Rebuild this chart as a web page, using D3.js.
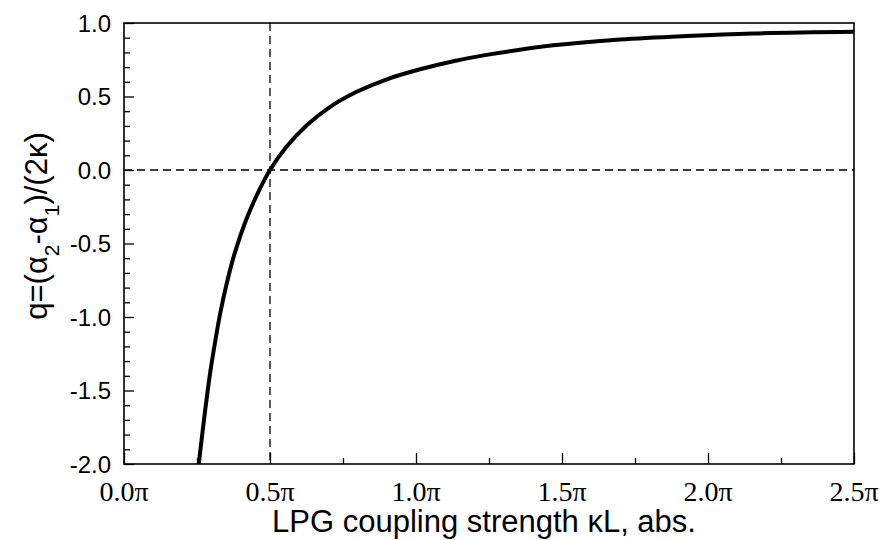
<!DOCTYPE html>
<html>
<head>
<meta charset="utf-8">
<script src="https://cdn.jsdelivr.net/npm/d3@7"></script>
<style>
  body { margin: 0; background: #fff; }
  .ylab { font-family: "Liberation Sans", Arial, sans-serif; font-size: 24px; }
  .xlab { font-family: "Liberation Serif", "Times New Roman", serif; font-size: 28px; }
  .title { font-family: "Liberation Sans", Arial, sans-serif; font-size: 31px; }
</style>
</head>
<body>
<div id="container"></div>
<script>
var width = 886,
    height = 540;

var margin = {top: 23, right: 32, bottom: 76, left: 124};

// curve (kL in units of pi, q)
var kl = [0.256, 0.277, 0.295, 0.312, 0.329, 0.352, 0.380, 0.420, 0.466, 0.500,
          0.557, 0.626, 0.706, 0.797, 0.900, 1.014, 1.128, 1.242, 1.470, 1.699,
          1.927, 2.155, 2.500];
var q = [-2.00, -1.65, -1.38, -1.17, -0.98, -0.77, -0.56, -0.33, -0.125, 0.00,
         0.16, 0.305, 0.43, 0.532, 0.617, 0.685, 0.74, 0.783, 0.848, 0.888,
         0.912, 0.929, 0.940];

var xTicks = [0, 0.5, 1.0, 1.5, 2.0, 2.5];
var xMinor = [0.25, 0.75, 1.25, 1.75, 2.25];
var yTicks = [1.0, 0.5, 0.0, -0.5, -1.0, -1.5, -2.0];
var yMinor = d3.range(-19, 10).filter(function(d){ return d % 5 != 0 }).map(function(d){ return d / 10 });

var x = d3.scaleLinear().domain([0, 2.5]).range([margin.left, width - margin.right]);
var y = d3.scaleLinear().domain([-2, 1]).range([height - margin.bottom, margin.top]);

var svg = d3.select("#container")
            .append("svg")
            .attr("width", width)
            .attr("height", height);

svg.append("defs").append("clipPath")
   .attr("id", "clip")
   .append("rect")
   .attr("x", x(0)).attr("y", y(1))
   .attr("width", x(2.5) - x(0)).attr("height", y(-2) - y(1));

// dashed reference lines
svg.append("line")
   .attr("x1", x(0)).attr("x2", x(2.5))
   .attr("y1", y(0)).attr("y2", y(0))
   .attr("stroke", "#000").attr("stroke-width", 1.3)
   .attr("stroke-dasharray", "8,5");

svg.append("line")
   .attr("x1", x(0.5)).attr("x2", x(0.5))
   .attr("y1", y(1)).attr("y2", y(-2))
   .attr("stroke", "#000").attr("stroke-width", 1.3)
   .attr("stroke-dasharray", "8,5");

// axes (ticks point inward)
var xAxis = d3.axisBottom(x).tickValues(xTicks).tickSize(-11).tickFormat("");
var xAxisMinor = d3.axisBottom(x).tickValues(xMinor).tickSize(-6).tickFormat("");
var yAxis = d3.axisLeft(y).tickValues(yTicks).tickSize(-10).tickFormat("");
var yAxisMinor = d3.axisLeft(y).tickValues(yMinor).tickSize(-6).tickFormat("");

[[xAxis, "translate(0," + y(-2) + ")"], [xAxisMinor, "translate(0," + y(-2) + ")"],
 [yAxis, "translate(" + x(0) + ",0)"], [yAxisMinor, "translate(" + x(0) + ",0)"]].forEach(function(a){
  var g = svg.append("g").attr("transform", a[1]).call(a[0]);
  g.select(".domain").remove();
  g.selectAll(".tick line").attr("stroke", "#000").attr("stroke-width", 1.3);
});

// frame
svg.append("rect")
   .attr("x", x(0)).attr("y", y(1))
   .attr("width", x(2.5) - x(0)).attr("height", y(-2) - y(1))
   .attr("fill", "none").attr("stroke", "#000").attr("stroke-width", 1.6);

// the curve
var line = d3.line()
  .x(function(d, i){ return x(kl[i]) })
  .y(function(d){ return y(d) })
  .curve(d3.curveCatmullRom.alpha(0.5));

svg.append("path")
   .datum(q)
   .attr("clip-path", "url(#clip)")
   .attr("d", line)
   .attr("fill", "none")
   .attr("stroke", "#000")
   .attr("stroke-width", 4);

// tick labels
svg.selectAll(".ylab")
   .data(yTicks)
   .enter().append("text")
   .attr("class", "ylab")
   .attr("x", x(0) - 13)
   .attr("y", function(d){ return y(d) })
   .attr("dy", "0.36em")
   .attr("text-anchor", "end")
   .text(function(d){ return d3.format(".1f")(d).replace("−", "-") });

svg.selectAll(".xlab")
   .data(xTicks)
   .enter().append("text")
   .attr("class", "xlab")
   .attr("x", function(d){ return x(d) })
   .attr("y", 501)
   .attr("text-anchor", "middle")
   .text(function(d){ return d3.format(".1f")(d) + "π" });

// axis titles
svg.append("text")
   .attr("class", "title")
   .attr("x", 484)
   .attr("y", 532)
   .attr("text-anchor", "middle")
   .text("LPG coupling strength κL, abs.");

var yt = svg.append("text")
   .attr("class", "title")
   .attr("transform", "translate(47,226) rotate(-90)")
   .attr("text-anchor", "middle");
yt.append("tspan").text("q=(α");
yt.append("tspan").attr("baseline-shift", "sub").attr("font-size", "21px").text("2");
yt.append("tspan").text("-α");
yt.append("tspan").attr("baseline-shift", "sub").attr("font-size", "21px").text("1");
yt.append("tspan").text(")/(2κ)");
</script>
</body>
</html>
